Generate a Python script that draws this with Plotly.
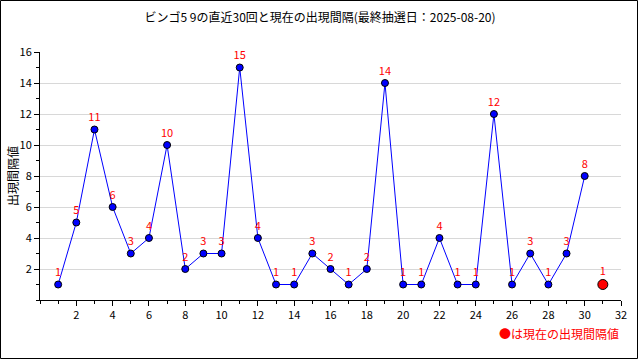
import plotly.graph_objects as go

draws = list(range(1, 31))
intervals = [1, 5, 11, 6, 3, 4, 10, 2, 3, 3, 15, 4, 1, 1, 3, 2, 1, 2, 14, 1, 1, 4, 1, 1, 12, 1, 3, 1, 3, 8]
current_x = [31]
current_val = [1]
title_text = "ビンゴ5 9の直近30回と現在の出現間隔(最終抽選日：2025-08-20)"
x_ticks = list(range(2, 33, 2))
y_ticks = list(range(2, 17, 2))

FONT = "Noto Sans CJK JP"
W, H = 640, 360
L, R, T, B = 40, 19, 52, 60
pw, ph = W - L - R, H - T - B

fig = go.Figure()
fig.add_trace(go.Scatter(
    x=draws, y=intervals, mode="lines+markers+text",
    line=dict(color="#0000ff", width=1),
    marker=dict(color="#0000ff", size=7, line=dict(color="#000000", width=1)),
    text=[str(v) for v in intervals], textposition="top center",
    textfont=dict(color="#ff0000", size=11, family=FONT),
    cliponaxis=False, showlegend=False,
))
fig.add_trace(go.Scatter(
    x=current_x, y=current_val, mode="markers+text",
    marker=dict(color="#ff0000", size=10, line=dict(color="#000000", width=1)),
    text=[str(v) for v in current_val], textposition="top center",
    textfont=dict(color="#ff0000", size=11, family=FONT),
    cliponaxis=False, showlegend=False,
))

fig.update_layout(
    width=W, height=H,
    margin=dict(l=L, r=R, t=T, b=B),
    paper_bgcolor="white", plot_bgcolor="white",
    font=dict(family=FONT, size=11, color="#000000"),
    title=dict(text=title_text, x=0.5, xanchor="center", y=1 - 18 / H, yanchor="middle",
               font=dict(size=12, family=FONT, color="#000000")),
    xaxis=dict(range=[0, 32], tickvals=x_ticks, showgrid=False, zeroline=False,
               showline=True, linecolor="#000000", linewidth=1,
               ticks="outside", ticklen=5, tickcolor="#000000",
               minor=dict(dtick=1, ticks="outside", ticklen=3, tickcolor="#000000", showgrid=False),
               tickfont=dict(size=11, family=FONT), fixedrange=True),
    yaxis=dict(range=[0, 16], tickvals=y_ticks, showgrid=True, gridcolor="#d8d8d8", gridwidth=1,
               zeroline=False, showline=True, linecolor="#000000", linewidth=1,
               ticks="outside", ticklen=5, tickcolor="#000000",
               minor=dict(dtick=1, ticks="outside", ticklen=3, tickcolor="#000000", showgrid=False),
               tickfont=dict(size=11, family=FONT), fixedrange=True),
    annotations=[
        dict(text="出現間隔値", xref="paper", yref="paper", x=-(L - 12) / pw, y=0.5,
             textangle=-90, showarrow=False, xanchor="center", yanchor="middle",
             font=dict(size=12, family=FONT, color="#000000")),
        dict(text="●は現在の出現間隔値", xref="paper", yref="paper", x=1, y=-(333 - (H - B)) / ph,
             showarrow=False, xanchor="right", yanchor="middle",
             font=dict(size=12, family=FONT, color="#ff0000")),
    ],
    shapes=[
        dict(type="rect", xref="paper", yref="paper",
             x0=-(L - 0.5) / pw, x1=(W - 2.5 - L) / pw,
             y0=-(B - 1.5) / ph, y1=1 + (T - 0.5) / ph,
             line=dict(color="#000000", width=1), fillcolor="rgba(0,0,0,0)", layer="above"),
    ],
)

fig.write_html("out.html", config={"displayModeBar": False, "staticPlot": True},
               post_script="document.body.style.margin='0px';document.body.style.overflow='hidden';")
